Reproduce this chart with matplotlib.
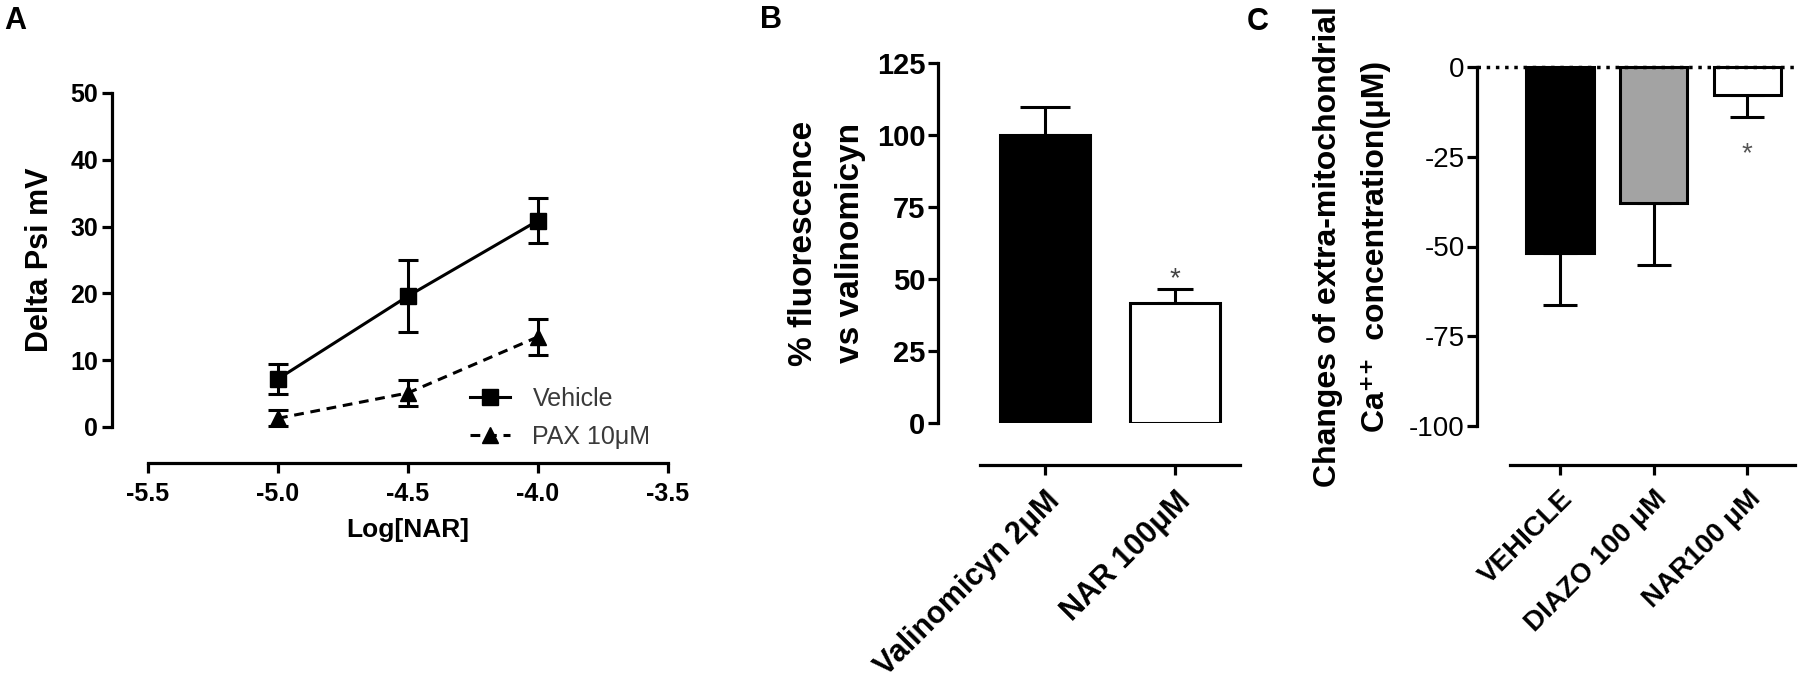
import matplotlib
matplotlib.use('Agg')
import matplotlib.pyplot as plt
from matplotlib.lines import Line2D
import numpy as np

plt.rcParams['font.family'] = ['Liberation Sans', 'DejaVu Sans']
plt.rcParams['axes.unicode_minus'] = False

# ---------------- data ----------------
# Panel A
log_nar = [-5.0, -4.5, -4.0]
vehicle_mean = [7.2, 19.6, 30.9]
vehicle_sem = [2.3, 5.4, 3.4]
pax_mean = [1.3, 5.1, 13.5]
pax_sem = [1.2, 1.9, 2.7]
a_xticks = [-5.5, -5.0, -4.5, -4.0, -3.5]
a_yticks = [0, 10, 20, 30, 40, 50]
a_series = ['Vehicle', 'PAX 10μM']

# Panel B
b_labels = ['Valinomicyn 2μM', 'NAR 100μM']
b_values = [100.0, 41.8]
b_errors = [9.8, 4.6]
b_sig = [False, True]
b_yticks = [0, 25, 50, 75, 100, 125]

# Panel C
c_labels = ['VEHICLE', 'DIAZO 100 μM', 'NAR100 μM']
c_values = [-51.8, -37.9, -7.9]
c_errors = [14.4, 17.3, 5.9]
c_sig = [False, False, True]
c_yticks = [0, -25, -50, -75, -100]

# ---------------- layout helpers ----------------
W, H = 1800, 688
fig = plt.figure(figsize=(W / 100, H / 100), dpi=100)


def px_rect(l, r, t, b):
    return [l / W, 1 - b / H, (r - l) / W, (b - t) / H]


def pt(p):
    return p * 72 / 100


def ftext(x, y, s, **kw):
    return fig.text(x / W, 1 - y / H, s, **kw)


def style_axes(ax, left_out, bottom_out):
    for s in ['top', 'right']:
        ax.spines[s].set_visible(False)
    ax.spines['left'].set_position(('outward', pt(left_out)))
    ax.spines['bottom'].set_position(('outward', pt(bottom_out)))
    for s in ['left', 'bottom']:
        ax.spines[s].set_linewidth(2.3)
        ax.spines[s].set_capstyle('projecting')
    ax.tick_params(width=2.3, length=7, direction='out', color='black')


# ---------------- Panel A ----------------
axA = fig.add_axes(px_rect(148, 668, 93, 427))
style_axes(axA, 36, 36)
axA.set_xlim(-5.5, -3.5)
axA.set_ylim(0, 50)
axA.errorbar(log_nar, vehicle_mean, yerr=vehicle_sem, fmt='-s', color='black',
             lw=2.2, ms=11.5, capsize=7, capthick=2.2, elinewidth=2.2)
axA.errorbar(log_nar, pax_mean, yerr=pax_sem, fmt='--^', color='black',
             lw=2.2, ms=11, capsize=7, capthick=2.2, elinewidth=2.2,
             dashes=(3.2, 2.2))
for c in axA.containers:
    for a in c.get_children():
        a.set_clip_on(False)
for ln in axA.lines:
    ln.set_clip_on(False)
axA.set_xticks(a_xticks)
axA.set_xticklabels([f'{v:.1f}' for v in a_xticks])
axA.set_yticks(a_yticks)
axA.tick_params(axis='y', labelsize=18, pad=3)
axA.tick_params(axis='x', labelsize=18, pad=7)
for lbl in axA.get_xticklabels() + axA.get_yticklabels():
    lbl.set_fontweight('bold')

h1 = Line2D([], [], color='black', lw=2.2, marker='s', ms=11.5)
h2 = Line2D([], [], color='black', lw=2.2, marker='^', ms=11, ls='--',
            dashes=(3.2, 2.2))
axA.legend([h1, h2], a_series, loc='center left',
           bbox_to_anchor=((470 - 148) / 520, (427 - 418) / 334),
           frameon=False, fontsize=18, handlelength=1.6, handletextpad=0.9,
           labelspacing=0.55, borderpad=0, borderaxespad=0,
           labelcolor='#3a3a3a')

ftext(40, 260, 'Delta Psi mV', rotation=90, ha='center', va='center',
      fontsize=22, fontweight='bold')
ftext(408, 530, 'Log[NAR]', ha='center', va='center', fontsize=19,
      fontweight='bold')
ftext(4, 21, 'A', ha='left', va='center', fontsize=22, fontweight='bold')

# ---------------- Panel B ----------------
axB = fig.add_axes(px_rect(980, 1240, 63, 423))
style_axes(axB, 42, 42)
xB = np.arange(len(b_labels))
axB.bar(xB, b_values, width=0.69, color=['black', 'white'],
        edgecolor='black', linewidth=2.2, zorder=3)
b_caps = [18, 13]
for i in range(len(xB)):
    axB.errorbar(xB[i], b_values[i], yerr=[[0], [b_errors[i]]], fmt='none',
                 ecolor='black', elinewidth=2.2, capsize=b_caps[i],
                 capthick=2.2, zorder=2)
    if b_sig[i]:
        axB.text(xB[i], b_values[i] + b_errors[i] + 3.6, '*', ha='center',
                 va='center', fontsize=20, color='#444444')
axB.set_xlim(-0.5, 1.5)
axB.set_ylim(0, 125)
axB.set_yticks(b_yticks)
axB.set_xticks(xB)
axB.set_xticklabels(b_labels, rotation=45, ha='right', va='top',
                    rotation_mode='anchor')
axB.tick_params(axis='y', labelsize=21, pad=2)
axB.tick_params(axis='x', labelsize=22, pad=8)
for lbl in axB.get_xticklabels() + axB.get_yticklabels():
    lbl.set_fontweight('bold')

ftext(803, 243, '% fluorescence', rotation=90, ha='center', va='center',
      fontsize=24, fontweight='bold')
ftext(850, 243, 'vs valinomicyn', rotation=90, ha='center', va='center',
      fontsize=24, fontweight='bold')
ftext(760, 20, 'B', ha='left', va='center', fontsize=22, fontweight='bold')

# ---------------- Panel C ----------------
axC = fig.add_axes(px_rect(1510, 1795, 67, 426))
style_axes(axC, 33, 39)
xC = np.arange(len(c_labels))
bars = axC.bar(xC, c_values, width=0.72, color=['black', '#a3a3a3', 'white'],
               edgecolor='black', linewidth=2.2, zorder=3)
for b in bars:
    b.set_clip_on(False)
for i in range(len(xC)):
    axC.errorbar(xC[i], c_values[i], yerr=[[c_errors[i]], [0]], fmt='none',
                 ecolor='black', elinewidth=2.2, capsize=12, capthick=2.2,
                 zorder=2)
    if c_sig[i]:
        axC.text(xC[i], c_values[i] - c_errors[i] - 10.5, '*', ha='center',
                 va='center', fontsize=20, color='#555555')
axC.plot([-0.116, 1.0], [0, 0], transform=axC.get_yaxis_transform(),
         color='black', lw=2.5, ls=':', clip_on=False, zorder=4)
axC.set_xlim(-0.535, 2.51)
axC.set_ylim(-100, 0)
axC.set_yticks(c_yticks)
axC.set_yticklabels([str(v) for v in c_yticks])
axC.set_xticks(xC)
axC.set_xticklabels(c_labels, rotation=45, ha='right', va='top',
                    rotation_mode='anchor')
axC.tick_params(axis='y', labelsize=20, pad=2)
axC.tick_params(axis='x', labelsize=20, pad=8)
for lbl in axC.get_xticklabels():
    lbl.set_fontweight('bold')

ftext(1328, 247, 'Changes of extra-mitochondrial', rotation=90, ha='center',
      va='center', fontsize=23, fontweight='bold')
ftext(1376, 246, 'Ca⁺⁺  concentration(μM)', rotation=90, ha='center',
      va='center', fontsize=23, fontweight='bold')
ftext(1247, 22, 'C', ha='left', va='center', fontsize=22, fontweight='bold')

fig.savefig('out.png', dpi=100)
